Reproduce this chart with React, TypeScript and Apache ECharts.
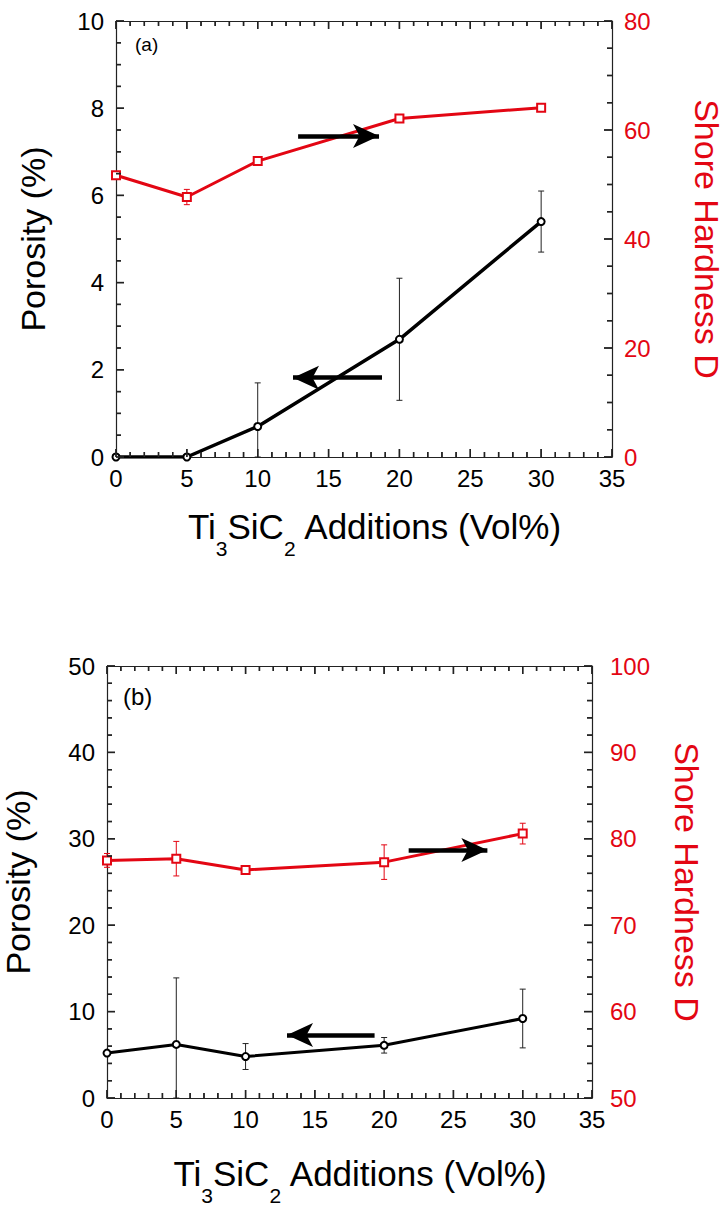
import React, { useEffect, useRef } from "react";
import * as echarts from "echarts";

// ---------- data ----------
const xVals = [0, 5, 10, 20, 30];
// panel (a)
const porosityA = [0, 0, 0.7, 2.7, 5.4];
const porosityAErr = [0, 0, 1.0, 1.4, 0.7];
const hardnessA = [51.7, 47.7, 54.3, 62.1, 64.1];
const hardnessAErr = [0.5, 1.4, 0.8, 0.3, 0.6];
// panel (b)
const porosityB = [5.2, 6.2, 4.8, 6.1, 9.2];
const porosityBErr = [0, 7.7, 1.5, 0.9, 3.4];
const hardnessB = [77.5, 77.7, 76.4, 77.3, 80.6];
const hardnessBErr = [0.8, 2.0, 0.3, 2.0, 1.2];

// arrow annotations, in porosity-axis data coordinates: [xTail, xTip, y]
const arrowsA = [
  [12.85, 18.56, 7.36],
  [18.77, 12.49, 1.82],
];
const arrowsB = [
  [21.77, 27.45, 28.7],
  [19.31, 12.99, 7.28],
];

const xTicks = { min: 0, max: 35, interval: 5 };
const yPorA = { min: 0, max: 10, interval: 2 };
const yHarA = { min: 0, max: 80, interval: 20 };
const yPorB = { min: 0, max: 50, interval: 10 };
const yHarB = { min: 50, max: 100, interval: 10 };

const RED = "#e30613";
const FONT = "Liberation Sans, Arial, Helvetica, sans-serif";
const TICK_COLOR = "#222";
const TICK_W = 1.4;

type Ax = { min: number; max: number; interval: number };

function pairs(ys: number[]) {
  return xVals.map((x, i) => [x, ys[i]]);
}
function errData(ys: number[], errs: number[], floor: number) {
  return xVals.map((x, i) => [x, Math.max(ys[i] - errs[i], floor), ys[i] + errs[i]]);
}
function errSeries(data: number[][], color: string, xi: number, yi: number) {
  return {
    type: "custom",
    xAxisIndex: xi,
    yAxisIndex: yi,
    z: 1,
    silent: true,
    data,
    encode: { x: 0, y: [1, 2] },
    renderItem: (params: any, api: any) => {
      const x = api.value(0);
      const lo = api.value(1);
      const hi = api.value(2);
      if (hi - lo <= 0) return null;
      const p1 = api.coord([x, hi]);
      const p2 = api.coord([x, lo]);
      const w = 3;
      const style = { stroke: color, lineWidth: 1 };
      return {
        type: "group",
        children: [
          { type: "line", shape: { x1: p1[0], y1: p1[1], x2: p2[0], y2: p2[1] }, style },
          { type: "line", shape: { x1: p1[0] - w, y1: p1[1], x2: p1[0] + w, y2: p1[1] }, style },
          { type: "line", shape: { x1: p2[0] - w, y1: p2[1], x2: p2[0] + w, y2: p2[1] }, style },
        ],
      };
    },
  };
}

// tick positions (major + minor) of an axis
function tickVals(ax: Ax, split: number) {
  const step = ax.interval / split;
  const n = Math.round((ax.max - ax.min) / step);
  const out: number[] = [];
  for (let i = 0; i <= n; i++) out.push(ax.min + i * step);
  return out;
}
function isMajor(v: number, ax: Ax) {
  const k = (v - ax.min) / ax.interval;
  return Math.abs(k - Math.round(k)) < 1e-6;
}

// inward ticks as custom series
function xTickSeries(xi: number, yi: number, ax: Ax, split: number, other: Ax) {
  return {
    type: "custom",
    xAxisIndex: xi,
    yAxisIndex: yi,
    z: 10,
    silent: true,
    data: tickVals(ax, split).map((v) => [v, other.min, other.max]),
    encode: { x: 0, y: [1, 2] },
    renderItem: (params: any, api: any) => {
      const v = api.value(0);
      const L = isMajor(v, ax) ? 8 : 5;
      const pb = api.coord([v, api.value(1)]);
      const pt = api.coord([v, api.value(2)]);
      const style = { stroke: TICK_COLOR, lineWidth: TICK_W };
      return {
        type: "group",
        children: [
          { type: "line", shape: { x1: pb[0], y1: pb[1], x2: pb[0], y2: pb[1] - L }, style },
          { type: "line", shape: { x1: pt[0], y1: pt[1], x2: pt[0], y2: pt[1] + L }, style },
        ],
      };
    },
  };
}
function yTickSeries(xi: number, yi: number, ax: Ax, split: number, xEdge: number, side: number) {
  return {
    type: "custom",
    xAxisIndex: xi,
    yAxisIndex: yi,
    z: 10,
    silent: true,
    data: tickVals(ax, split).map((v) => [xEdge, v, v]),
    encode: { x: 0, y: [1, 2] },
    renderItem: (params: any, api: any) => {
      const v = api.value(1);
      const L = isMajor(v, ax) ? 8 : 5;
      const p = api.coord([api.value(0), v]);
      const style = { stroke: TICK_COLOR, lineWidth: TICK_W };
      return {
        type: "group",
        children: [{ type: "line", shape: { x1: p[0], y1: p[1], x2: p[0] + side * L, y2: p[1] }, style }],
      };
    },
  };
}

function arrowMarkLine(arrows: number[][]) {
  return {
    silent: true,
    symbol: ["none", "arrow"],
    symbolSize: [18, 26],
    lineStyle: { color: "#000", width: 4.5, type: "solid", opacity: 1 },
    itemStyle: { color: "#000" },
    label: { show: false },
    emphasis: { disabled: true },
    data: arrows.map((a) => [{ coord: [a[0], a[2]] }, { coord: [a[1], a[2]] }]),
  };
}

function axisLine() {
  return { show: true, onZero: false, lineStyle: { color: "#222", width: 1.2 } };
}

function xAxisPair(grid: number, nameGap: number) {
  return [
    {
      type: "value",
      gridIndex: grid,
      position: "bottom",
      ...xTicks,
      axisLine: axisLine(),
      axisTick: { show: false },
      splitLine: { show: false },
      axisLabel: { show: true, fontSize: 24, color: "#000", margin: 9, fontFamily: FONT, showMaxLabel: true, showMinLabel: true },
      name: "{n|Ti}{s|3}{n|SiC}{s|2}{n| Additions (Vol%)}",
      nameLocation: "middle",
      nameGap,
      nameTextStyle: {
        fontFamily: FONT,
        padding: [0, 0, 0, 22],
        rich: {
          n: { fontSize: 35, lineHeight: 66, color: "#000", fontFamily: FONT },
          s: { fontSize: 21, lineHeight: 20, verticalAlign: "bottom", color: "#000", fontFamily: FONT },
        },
      },
    },
    {
      type: "value",
      gridIndex: grid,
      position: "top",
      ...xTicks,
      axisLine: axisLine(),
      axisTick: { show: false },
      splitLine: { show: false },
      axisLabel: { show: false },
    },
  ];
}
function yAxisPair(grid: number, left: any, right: any, gapL: number, gapR: number, rMargin: number) {
  return [
    {
      type: "value",
      gridIndex: grid,
      position: "left",
      ...left,
      axisLine: axisLine(),
      axisTick: { show: false },
      splitLine: { show: false },
      axisLabel: { show: true, fontSize: 24, color: "#000", margin: 12, fontFamily: FONT, showMaxLabel: true, showMinLabel: true },
      name: "Porosity (%)",
      nameLocation: "middle",
      nameGap: gapL,
      nameTextStyle: { fontSize: 34, color: "#000", fontFamily: FONT },
    },
    {
      type: "value",
      gridIndex: grid,
      position: "right",
      ...right,
      axisLine: axisLine(),
      axisTick: { show: false },
      splitLine: { show: false },
      axisLabel: { show: true, fontSize: 24, color: RED, margin: rMargin, fontFamily: FONT, showMaxLabel: true, showMinLabel: true },
      name: "Shore Hardness D",
      nameLocation: "middle",
      nameRotate: -90,
      nameGap: gapR,
      nameTextStyle: { fontSize: 34, color: RED, fontFamily: FONT },
    },
  ];
}

const panelTexts = [
  { type: "text", left: 135, top: 35, style: { text: "(a)", fontSize: 19, fill: "#000", fontFamily: FONT } },
  { type: "text", left: 123, top: 684, style: { text: "(b)", fontSize: 24, fill: "#000", fontFamily: FONT } },
];

export default function App() {
  const ref = useRef<HTMLDivElement>(null);
  useEffect(() => {
    if (!ref.current) return;
    const chart = echarts.init(ref.current, null, { renderer: "svg" });
    const option: any = {
      animation: false,
      backgroundColor: "#fff",
      textStyle: { fontFamily: FONT },
      grid: [
        { left: 116, top: 21, width: 496, height: 436, outerBoundsMode: "none", containLabel: false },
        { left: 107, top: 666, width: 485, height: 432, outerBoundsMode: "none", containLabel: false },
      ],
      xAxis: [...xAxisPair(0, 36), ...xAxisPair(1, 42)],
      yAxis: [
        ...yAxisPair(0, yPorA, yHarA, 66, 78, 12),
        ...yAxisPair(1, yPorB, yHarB, 72, 78, 18),
      ],
      graphic: panelTexts,
      series: [
        errSeries(errData(porosityA, porosityAErr, yPorA.min), "#222", 0, 0),
        errSeries(errData(hardnessA, hardnessAErr, yHarA.min), RED, 0, 1),
        {
          type: "line",
          xAxisIndex: 0,
          yAxisIndex: 0,
          data: pairs(porosityA),
          symbol: "emptyCircle",
          symbolSize: 7,
          z: 3,
          lineStyle: { color: "#000", width: 3.5 },
          itemStyle: { color: "#000", borderWidth: 1 },
          markLine: arrowMarkLine(arrowsA),
        },
        {
          type: "line",
          xAxisIndex: 0,
          yAxisIndex: 1,
          data: pairs(hardnessA),
          symbol: "emptyRect",
          symbolSize: 8,
          z: 2,
          lineStyle: { color: RED, width: 3 },
          itemStyle: { color: RED, borderWidth: 1 },
        },
        errSeries(errData(porosityB, porosityBErr, yPorB.min), "#222", 2, 2),
        errSeries(errData(hardnessB, hardnessBErr, yHarB.min), RED, 2, 3),
        {
          type: "line",
          xAxisIndex: 2,
          yAxisIndex: 2,
          data: pairs(porosityB),
          symbol: "emptyCircle",
          symbolSize: 7,
          z: 3,
          lineStyle: { color: "#000", width: 3 },
          itemStyle: { color: "#000", borderWidth: 1 },
          markLine: arrowMarkLine(arrowsB),
        },
        {
          type: "line",
          xAxisIndex: 2,
          yAxisIndex: 3,
          data: pairs(hardnessB),
          symbol: "emptyRect",
          symbolSize: 8,
          z: 2,
          lineStyle: { color: RED, width: 3 },
          itemStyle: { color: RED, borderWidth: 1 },
        },
        // inward ticks, panel (a)
        xTickSeries(0, 0, xTicks, 5, yPorA),
        yTickSeries(0, 0, yPorA, 4, xTicks.min, 1),
        yTickSeries(0, 1, yHarA, 4, xTicks.max, -1),
        // inward ticks, panel (b)
        xTickSeries(2, 2, xTicks, 5, yPorB),
        yTickSeries(2, 2, yPorB, 5, xTicks.min, 1),
        yTickSeries(2, 3, yHarB, 5, xTicks.max, -1),
      ],
    };
    chart.setOption(option);

    // also draw the inward ticks as graphic lines placed through the axes' scales
    const lines: any[] = [];
    const style = { stroke: TICK_COLOR, lineWidth: TICK_W };
    const addX = (xi: number, yi: number, ax: Ax, split: number, other: Ax) => {
      const yb = chart.convertToPixel({ yAxisIndex: yi } as any, other.min) as any;
      const yt = chart.convertToPixel({ yAxisIndex: yi } as any, other.max) as any;
      tickVals(ax, split).forEach((v) => {
        const px = chart.convertToPixel({ xAxisIndex: xi } as any, v) as any;
        const L = isMajor(v, ax) ? 8 : 5;
        if (typeof px !== "number" || typeof yb !== "number") return;
        lines.push({ type: "line", silent: true, z: 100, shape: { x1: px, y1: yb, x2: px, y2: yb - L }, style });
        lines.push({ type: "line", silent: true, z: 100, shape: { x1: px, y1: yt, x2: px, y2: yt + L }, style });
      });
    };
    const addY = (xi: number, yi: number, ax: Ax, split: number, xEdge: number, side: number) => {
      const px = chart.convertToPixel({ xAxisIndex: xi } as any, xEdge) as any;
      tickVals(ax, split).forEach((v) => {
        const py = chart.convertToPixel({ yAxisIndex: yi } as any, v) as any;
        const L = isMajor(v, ax) ? 8 : 5;
        if (typeof px !== "number" || typeof py !== "number") return;
        lines.push({ type: "line", silent: true, z: 100, shape: { x1: px, y1: py, x2: px + side * L, y2: py }, style });
      });
    };
    try {
      addX(0, 0, xTicks, 5, yPorA);
      addY(0, 0, yPorA, 4, xTicks.min, 1);
      addY(0, 1, yHarA, 4, xTicks.max, -1);
      addX(2, 2, xTicks, 5, yPorB);
      addY(2, 2, yPorB, 5, xTicks.min, 1);
      addY(2, 3, yHarB, 5, xTicks.max, -1);
      chart.setOption({ graphic: [...panelTexts, ...lines] });
    } catch (e) {
      // keep the chart even if pixel conversion is unavailable
    }
    return () => chart.dispose();
  }, []);
  return (
    <div
      ref={ref}
      style={{ position: "absolute", left: 0, top: 0, width: 725, height: 1209, background: "#fff" }}
    />
  );
}
